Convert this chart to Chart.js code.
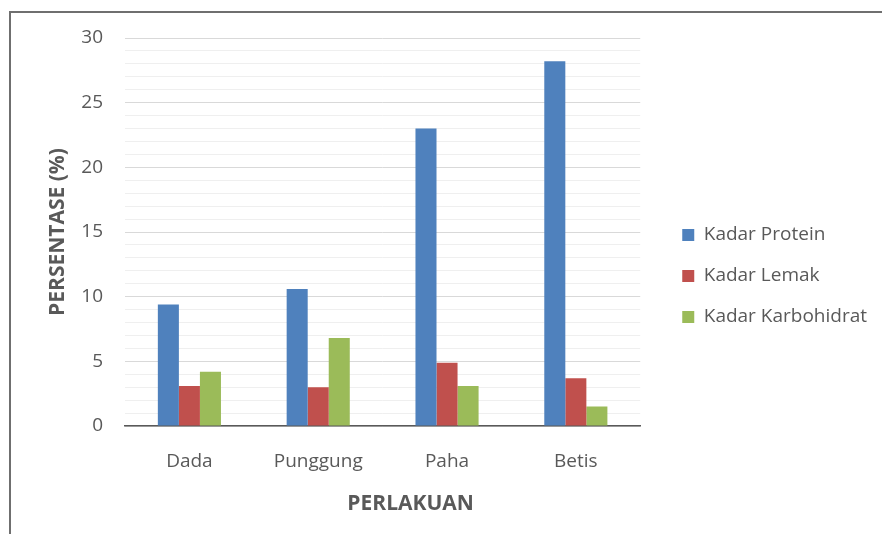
<!DOCTYPE html>
<html>
<head>
<meta charset="utf-8">
<script src="https://cdn.jsdelivr.net/npm/chart.js@4"></script>
<style>
  html, body { margin: 0; padding: 0; background: #fff; }
  body { width: 882px; height: 534px; overflow: hidden; position: relative; }
  #frame { position: absolute; left: 9px; top: 11px; width: 873px; height: 523px;
           border-left: 2px solid #6f6f6f; border-top: 2px solid #6f6f6f; }
  #myChart { position: absolute; left: 0; top: 0; }
</style>
</head>
<body>
<div id="frame"><canvas id="myChart" width="871" height="521"></canvas></div>
<script>
const categories = ['Dada', 'Punggung', 'Paha', 'Betis'];
const seriesNames = ['Kadar Protein', 'Kadar Lemak', 'Kadar Karbohidrat'];
const protein = [9.4, 10.6, 23.0, 28.2];
const lemak = [3.1, 3.0, 4.9, 3.7];
const karbohidrat = [4.2, 6.8, 3.1, 1.5];
const seriesColors = ['#4F81BD', '#C0504D', '#9BBB59'];
const yMax = 30;
const yLabelStep = 5;

const textColor = '#595959';
const fontFamily = '"Open Sans", "Noto Sans", sans-serif';

// x axis title sits a bit right of the plot centre, like in the original
const xTitlePlugin = {
    id: 'xTitle',
    afterDraw(chart) {
        const c = chart.ctx;
        const a = chart.chartArea;
        c.save();
        c.font = 'bold 21px ' + fontFamily;
        c.fillStyle = textColor;
        c.textAlign = 'center';
        c.textBaseline = 'middle';
        c.fillText('PERLAKUAN', (a.left + a.right) / 2 + 28, a.bottom + 78);
        c.restore();
    }
};

// empty spacer axes, only used to set the gaps around the plot
const spacer = (size) => ({
    display: true,
    grid: { display: false },
    border: { display: false },
    ticks: { display: false },
    afterFit: (s) => { if (s.isHorizontal()) s.height = size; else s.width = size; }
});

const ctx = document.getElementById('myChart').getContext('2d');
const myChart = new Chart(ctx, {
    type: 'bar',
    data: {
        labels: categories,
        datasets: [protein, lemak, karbohidrat].map((d, i) => ({
            label: seriesNames[i],
            data: d,
            backgroundColor: seriesColors[i],
            borderWidth: 0,
            barPercentage: 1,
            categoryPercentage: 0.49
        }))
    },
    options: {
        responsive: false,
        animation: false,
        layout: { padding: { left: 30, top: 20, bottom: 15, right: 5 } },
        plugins: {
            tooltip: { enabled: false },
            legend: {
                position: 'right',
                maxWidth: 400,
                labels: {
                    boxWidth: 12,
                    boxHeight: 12,
                    padding: 22,
                    color: textColor,
                    font: { family: fontFamily, size: 19 }
                }
            }
        },
        scales: {
            x: {
                grid: { display: false, drawTicks: false },
                border: { display: true, color: '#595959', width: 1.5 },
                ticks: { color: textColor, padding: 24, font: { family: fontFamily, size: 19 } },
                afterFit: (s) => { s.height = 93; }
            },
            y: {
                min: 0,
                max: yMax,
                grid: {
                    drawTicks: true,
                    tickLength: 22,
                    tickColor: 'rgba(0,0,0,0)',
                    color: (c) => (c.tick && c.tick.value % yLabelStep === 0) ? '#d9d9d9' : '#efefef'
                },
                border: { display: false },
                ticks: {
                    stepSize: 1,
                    autoSkip: false,
                    padding: 0,
                    color: textColor,
                    font: { family: fontFamily, size: 19 },
                    callback: (v) => v % yLabelStep === 0 ? v : ''
                },
                title: {
                    display: true,
                    text: 'PERSENTASE (%)',
                    color: textColor,
                    font: { family: fontFamily, size: 21, weight: 'bold' }
                },
                afterFit: (s) => { s.width = 84; }
            },
            y2: Object.assign({ position: 'right', type: 'linear' }, spacer(20)),
            x2: Object.assign({ position: 'top', type: 'category' }, spacer(5))
        }
    },
    plugins: [xTitlePlugin]
});
</script>
</body>
</html>
